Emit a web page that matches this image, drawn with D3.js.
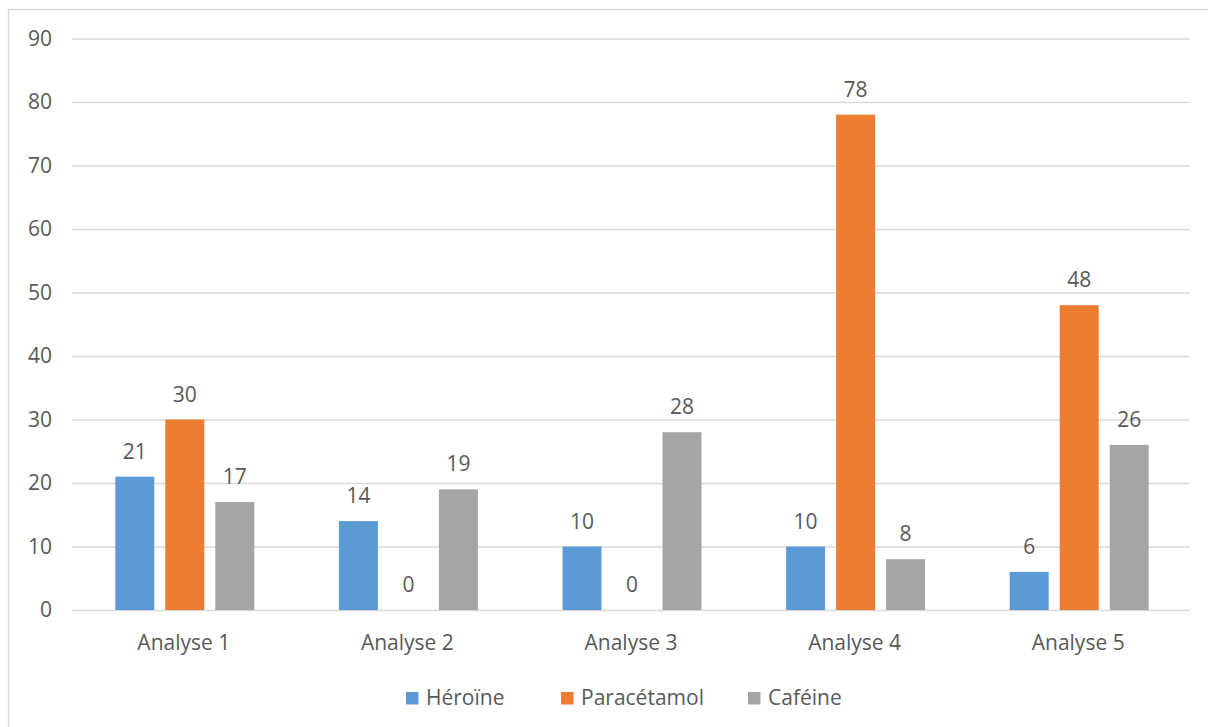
<!DOCTYPE html>
<html>
<head>
<meta charset="utf-8">
<script src="https://cdn.jsdelivr.net/npm/d3@7"></script>
<style>
  html, body { margin: 0; padding: 0; background: #fff; }
  svg { display: block; font-family: "Open Sans", "Noto Sans", sans-serif; }
</style>
</head>
<body>
<svg id="chart" width="1208" height="727"></svg>
<script>
// Results per analysis, in percent
const categories = ["Analyse 1", "Analyse 2", "Analyse 3", "Analyse 4", "Analyse 5"];
const seriesNames = ["Héroïne", "Paracétamol", "Caféine"];
const heroine = [21, 14, 10, 10, 6];
const paracetamol = [30, 0, 0, 78, 48];
const cafeine = [17, 19, 28, 8, 26];
const yTicks = [0, 10, 20, 30, 40, 50, 60, 70, 80, 90];

const seriesValues = [heroine, paracetamol, cafeine];
const colors = ["#5B9BD5", "#ED7D31", "#A5A5A5"];
const textColor = "#595959";

const svg = d3.select("#chart");

// Outer chart frame
svg.append("rect")
  .attr("x", 8.5).attr("y", 9.5)
  .attr("width", 1300).attr("height", 800)
  .attr("fill", "#fff").attr("stroke", "#D9D9D9").attr("stroke-width", 1.5);

const plot = { left: 72, right: 1190, top: 38.5, bottom: 610 };

const x = d3.scaleBand().domain(categories).range([plot.left, plot.right]).paddingInner(0).paddingOuter(0);
const groupWidth = 139;
const xs = d3.scaleBand().domain(seriesNames).range([0, groupWidth]).paddingInner(0.22).paddingOuter(0);
const y = d3.scaleLinear().domain([0, 90]).range([plot.bottom, plot.top]);

// Horizontal gridlines and value axis labels
const yAxis = d3.axisLeft(y).tickValues(yTicks).tickSize(-(plot.right - plot.left)).tickPadding(20).tickFormat(d3.format("d"));
const gy = svg.append("g").attr("transform", `translate(${plot.left},0)`).call(yAxis);
gy.select(".domain").remove();
gy.selectAll(".tick line").attr("stroke", "#D9D9D9").attr("stroke-width", 1.3);
gy.selectAll(".tick text").attr("fill", textColor).style("font-size", "21px")
  .attr("font-family", "Open Sans, sans-serif");

// Category axis labels
const xAxis = d3.axisBottom(x).tickSize(0).tickPadding(25);
const gx = svg.append("g").attr("transform", `translate(0,${plot.bottom})`).call(xAxis);
gx.select(".domain").remove();
gx.selectAll(".tick text").attr("fill", textColor).style("font-size", "21px")
  .attr("font-family", "Open Sans, sans-serif").attr("dy", "0.71em");

// Bars and value labels
const groups = svg.append("g").selectAll("g")
  .data(categories)
  .join("g")
  .attr("transform", c => `translate(${x(c) + (x.bandwidth() - groupWidth) / 2 + 1},0)`);

groups.each(function(c, ci) {
  const g = d3.select(this);
  seriesNames.forEach((s, si) => {
    const v = seriesValues[si][ci];
    g.append("rect")
      .attr("x", xs(s))
      .attr("y", y(v))
      .attr("width", xs.bandwidth())
      .attr("height", y(0) - y(v))
      .attr("fill", colors[si]);
    g.append("text")
      .attr("x", xs(s) + xs.bandwidth() / 2)
      .attr("y", y(v) - 18)
      .attr("text-anchor", "middle")
      .attr("fill", textColor)
      .style("font-size", "21px")
      .text(v);
  });
});

// Legend
const legendX = [406, 561, 748];
const legend = svg.append("g");
seriesNames.forEach((s, i) => {
  legend.append("rect")
    .attr("x", legendX[i]).attr("y", 692)
    .attr("width", 12.5).attr("height", 12.5)
    .attr("fill", colors[i]);
  legend.append("text")
    .attr("x", legendX[i] + 20).attr("y", 705)
    .attr("fill", textColor)
    .style("font-size", "21px")
    .text(s);
});
</script>
</body>
</html>
